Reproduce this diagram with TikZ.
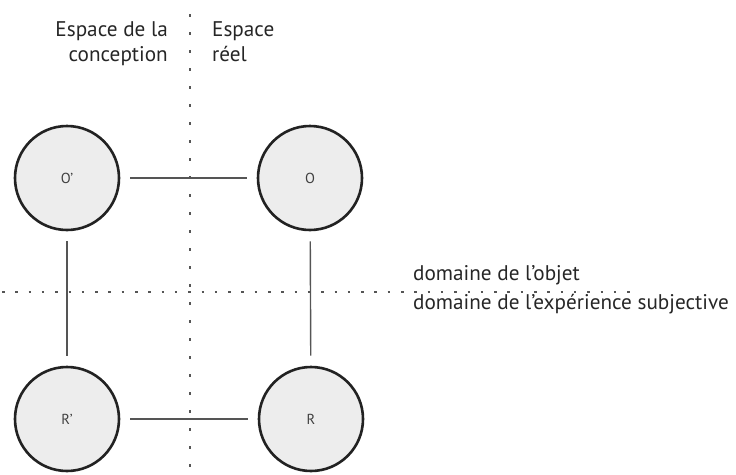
\documentclass[tikz,border=0pt]{standalone}
\usepackage{fontspec}
\setmainfont{PT Sans}
\definecolor{rim}{HTML}{222222}
\definecolor{disc}{HTML}{EDEDED}
\definecolor{link}{HTML}{555555}
\tikzset{
  pole/.style={circle,draw=rim,fill=disc,line width=2.6pt,minimum size=104pt,inner sep=0pt,
    text=black!75,font=\fontsize{14.5}{16}\selectfont},
  tie/.style={draw=link,line width=1.4pt,shorten <=10pt,shorten >=10pt},
  border/.style={draw=link,line width=1.6pt},
  caption/.style={inner sep=0pt,text=black!85,font=\fontsize{21.2}{25}\selectfont}
}
\begin{document}
\begin{tikzpicture}[x=1pt,y=-1pt]
\useasboundingbox (0,0) rectangle (736,474);
% the four poles
\node[pole] (Op) at (67,178) {O’};
\node[pole] (O) at (310,178) {O};
\node[pole] (Rp) at (67,419) {R’};
\node[pole] (R) at (311,419) {R};
\draw[tie] (Op) -- (O);
\draw[tie] (Rp) -- (R);
\draw[tie] (Op) -- (Rp);
\draw[tie] (O) -- (R);
% the two dividing lines
\coordinate (vtop) at (190,14);
\coordinate (vbot) at (190,474);
\coordinate (hleft) at (2,292);
\coordinate (hright) at (636,292);
\draw[border,dash pattern=on 3pt off 15pt] (vtop) -- (vbot);
\draw[border,dash pattern=on 2.5pt off 10.8pt] (hleft) -- (hright);
\node[caption,align=right,anchor=north east] (design) at (168,21) {Espace de la\\conception};
\node[caption,align=left,anchor=north west] (real) at (212,21) {Espace\\réel};
\node[caption,anchor=base west] (object) at (413,280) {domaine de l’objet};
\node[caption,anchor=base west] (subject) at (413,309) {domaine de l’expérience subjective};
\end{tikzpicture}
\end{document}
